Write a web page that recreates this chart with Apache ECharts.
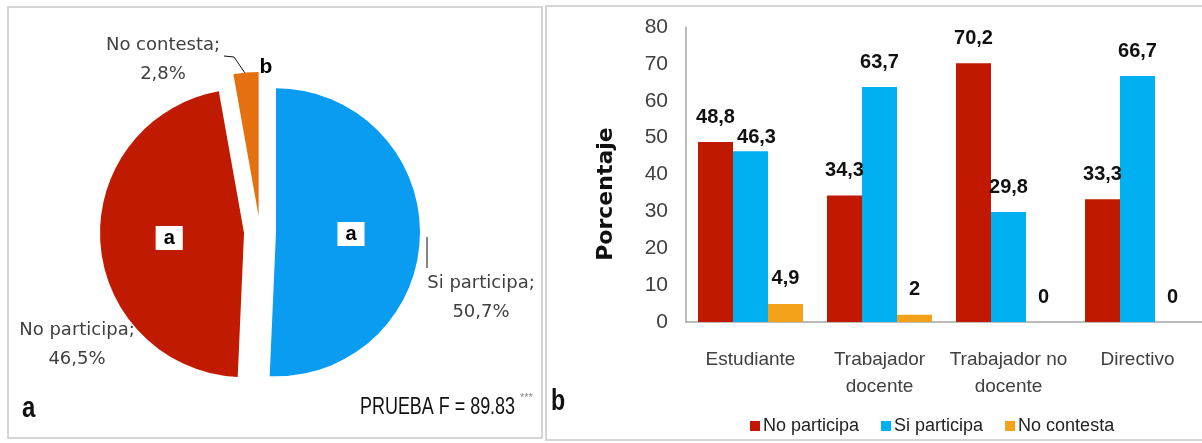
<!DOCTYPE html>
<html>
<head>
<meta charset="utf-8">
<script src="https://cdn.jsdelivr.net/npm/echarts@6/dist/echarts.min.js"></script>
<style>
html,body{margin:0;padding:0;background:#fff;}
#chart{width:1202px;height:443px;}
</style>
</head>
<body>
<div id="chart"></div>
<script>
// ---- data ----
const pieCategories = ['Si participa', 'No participa', 'No contesta'];
const pieValues = [50.7, 46.5, 2.8];
const pieLetters = ['a', 'a', 'b'];
const pieColors = ['#0A9CF0', '#C01B00', '#E4700F'];

const barCategories = ['Estudiante', 'Trabajador\ndocente', 'Trabajador no\ndocente', 'Directivo'];
const seriesNames = ['No participa', 'Si participa', 'No contesta'];
const noParticipa = [48.8, 34.3, 70.2, 33.3];
const siParticipa = [46.3, 63.7, 29.8, 66.7];
const noContesta = [4.9, 2, 0, 0];
const barColors = ['#C01900', '#00B0F0', '#F4A11A'];
const yMin = 0, yMax = 80, yStep = 10;

const SANS = "'Liberation Sans',Arial,sans-serif";
const comma = v => String(v).replace('.', ',');

const chart = echarts.init(document.getElementById('chart'), null, {renderer: 'canvas'});

// annotation positions for the pie labels (label centres)
const pieLabelPos = [{x: 481, y: 298}, {x: 77, y: 345}, {x: 163, y: 60}];

function barSeries(name, values, color, idx) {
  return {
    name: name,
    type: 'bar',
    barWidth: 35,
    barGap: '0%',
    itemStyle: {color: color},
    label: {
      show: true,
      position: 'top',
      distance: 15,
      fontFamily: SANS,
      fontWeight: 'bold',
      fontSize: 20,
      color: '#111',
      formatter: p => comma(p.value)
    },
    data: values.map((v, i) => {
      if (idx === 1 && i === 0) {
        return {value: v, label: {distance: 4, offset: [6, 0]}};
      }
      return v;
    })
  };
}

const pieLabelGraphics = pieCategories.map((n, i) => ({
  type: 'text', x: pieLabelPos[i].x, y: pieLabelPos[i].y,
  style: {
    text: n + ';\n' + comma(pieValues[i].toFixed(1)) + '%',
    font: '18px DejaVu Sans', lineHeight: 29, fill: '#404040',
    textAlign: 'center', textVerticalAlign: 'middle'
  }
}));

const option = {
  animation: false,
  graphic: [
    {type: 'rect', shape: {x: 8, y: 7, width: 534, height: 431}, style: {fill: 'none', stroke: '#C8C8C8', lineWidth: 1.5}, z: -10},
    {type: 'rect', shape: {x: 546, y: 6, width: 680, height: 434}, style: {fill: 'none', stroke: '#C8C8C8', lineWidth: 1.5}, z: -10},
    {type: 'text', x: 360, y: 408, scaleX: 0.78, style: {text: 'PRUEBA F = 89.83', font: '23px ' + SANS, fill: '#111', textAlign: 'left', textVerticalAlign: 'middle'}},
    {type: 'text', x: 520, y: 398, style: {text: '***', font: '11px ' + SANS, fill: '#888', textAlign: 'left', textVerticalAlign: 'middle'}},
    {type: 'text', x: 22, y: 409, scaleX: 0.8, style: {text: 'a', font: 'bold 30px ' + SANS, fill: '#111', textAlign: 'left', textVerticalAlign: 'middle'}},
    {type: 'text', x: 551, y: 402, scaleX: 0.8, style: {text: 'b', font: 'bold 29px ' + SANS, fill: '#111', textAlign: 'left', textVerticalAlign: 'middle'}},
    {type: 'text', x: 266, y: 67, style: {text: pieLetters[2], font: 'bold 21px ' + SANS, fill: '#000', textAlign: 'center', textVerticalAlign: 'middle'}},
    {type: 'polyline', shape: {points: [[427, 237], [427, 268]]}, style: {stroke: '#111', lineWidth: 1, fill: 'none'}},
    {type: 'polyline', shape: {points: [[224, 56], [234, 57], [247, 76]]}, style: {stroke: '#111', lineWidth: 1, fill: 'none'}},
    {type: 'text', x: 606, y: 194, rotation: Math.PI / 2, style: {text: 'Porcentaje', font: 'bold 22px DejaVu Sans', fill: '#111', textAlign: 'center', textVerticalAlign: 'middle'}}
  ].concat(pieLabelGraphics),
  legend: {
    data: seriesNames,
    left: 745,
    top: 412,
    icon: 'rect',
    itemWidth: 10,
    itemHeight: 10,
    itemGap: 22,
    textStyle: {fontFamily: SANS, fontSize: 18, color: '#222', padding: [0, 0, 0, -2]},
    selectedMode: false
  },
  grid: {left: 686, top: 27, bottom: 121, width: 524, containLabel: false},
  xAxis: {
    type: 'category',
    data: barCategories,
    axisLine: {show: true, lineStyle: {color: '#A6A6A6', width: 1.5}},
    axisTick: {show: false},
    axisLabel: {fontFamily: SANS, fontSize: 19, color: '#404040', margin: 24, lineHeight: 27, interval: 0}
  },
  yAxis: {
    type: 'value',
    min: yMin, max: yMax, interval: yStep,
    axisLine: {show: true, lineStyle: {color: '#A6A6A6', width: 1.5}},
    axisTick: {show: false},
    splitLine: {show: false},
    axisLabel: {fontFamily: SANS, fontSize: 21, color: '#404040', margin: 18}
  },
  series: [
    barSeries(seriesNames[0], noParticipa, barColors[0], 0),
    barSeries(seriesNames[1], siParticipa, barColors[1], 1),
    barSeries(seriesNames[2], noContesta, barColors[2], 2),
    {
      type: 'pie',
      center: [260, 232],
      radius: 144,
      startAngle: 90,
      clockwise: true,
      selectedMode: 'multiple',
      selectedOffset: 16,
      silent: true,
      emphasis: {disabled: true},
      label: {show: false},
      labelLine: {show: false},
      data: pieValues.map((v, i) => ({
        name: pieCategories[i], value: v, selected: true,
        itemStyle: {color: pieColors[i]},
        select: {itemStyle: {color: pieColors[i]}}
      }))
    },
    {
      type: 'pie',
      center: [260, 232],
      radius: 144,
      startAngle: 90,
      clockwise: true,
      selectedMode: 'multiple',
      selectedOffset: 16,
      silent: true,
      emphasis: {disabled: true},
      itemStyle: {color: 'rgba(0,0,0,0)'},
      select: {itemStyle: {color: 'rgba(0,0,0,0)'}},
      label: {
        show: true,
        position: 'inside',
        fontFamily: SANS,
        fontWeight: 'bold',
        fontSize: 20,
        color: '#000',
        backgroundColor: '#fff',
        padding: [3, 8, 1, 8],
        formatter: p => pieLetters[p.dataIndex]
      },
      labelLine: {show: false},
      data: pieValues.map((v, i) => ({
        name: pieCategories[i], value: v, selected: true,
        label: {show: i !== 2}
      }))
    }
  ]
};
chart.setOption(option);
</script>
</body>
</html>
